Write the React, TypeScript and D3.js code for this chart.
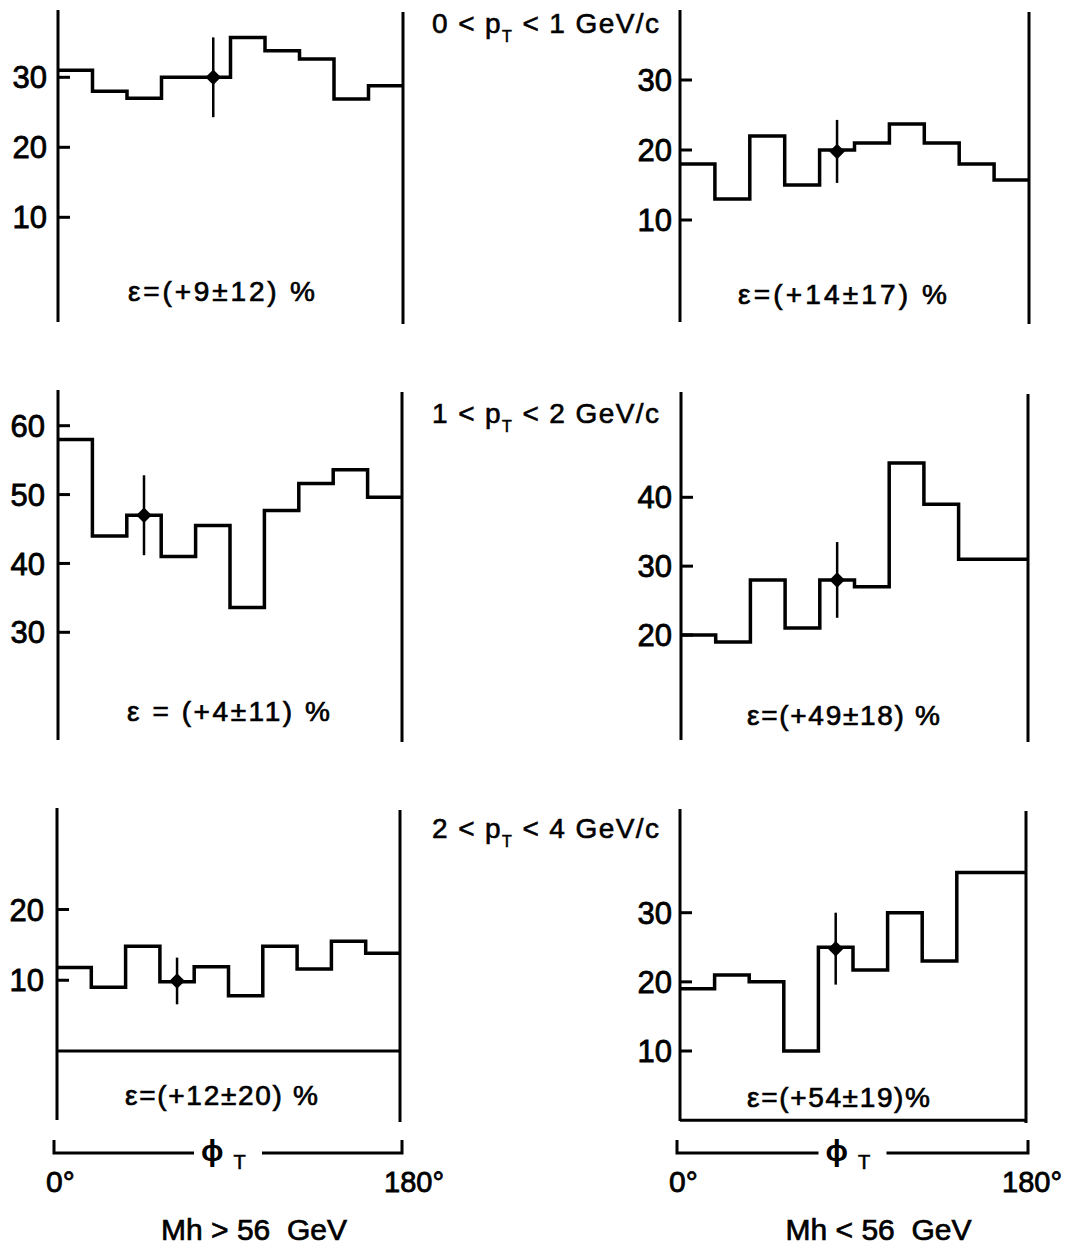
import * as d3 from "d3";

// phi_T bin edges (degrees), 10 bins of 18°
const phiEdges = [0, 18, 36, 54, 72, 90, 108, 126, 144, 162, 180];

// event counts per bin
const highMassPt01 = [31, 28, 27, 30, 30, 35.7, 33.8, 32.6, 26.9, 28.8];
const lowMassPt01 = [18, 13, 22, 15, 20, 21, 23.7, 21, 18, 15.7];
const highMassPt12 = [58, 44, 47, 41, 45.5, 33.6, 47.7, 51.6, 53.6, 49.6];
const lowMassPt12 = [20, 19, 28, 21, 28, 27, 45, 39, 31, 31];
const highMassPt24 = [11.8, 9, 14.8, 9.8, 11.9, 7.8, 14.8, 11.6, 15.5, 13.8];
const lowMassPt24 = [19, 21, 20, 10, 25, 21.7, 30, 23, 35.8, 35.8];

// representative error bar in each panel
const errBin = [4, 4, 2, 4, 3, 4];
const errValue = [30, 19.8, 47, 28, 9.9, 24.8];
const errSize = [5.7, 4.5, 5.8, 5.5, 3.3, 5.2];

const asymmetry = [
  "ε=(+9±12) %",
  "ε=(+14±17) %",
  "ε = (+4±11) %",
  "ε=(+49±18) %",
  "ε=(+12±20) %",
  "ε=(+54±19)%",
];

const yTicks = [
  [10, 20, 30],
  [10, 20, 30],
  [30, 40, 50, 60],
  [20, 30, 40],
  [10, 20],
  [10, 20, 30],
];

const ptLow = [0, 1, 2];
const ptHigh = [1, 2, 4];
const massLabels = ["Mh > 56  GeV", "Mh < 56  GeV"];

const series = [highMassPt01, lowMassPt01, highMassPt12, lowMassPt12, highMassPt24, lowMassPt24];

// panel geometry
const layout = [
  { x0: 58, x1: 403, top: 10, bottom: 322, dom: [0, 30], rng: [287.3, 77.3], gap: 11, ex: 128, ew: 187, ey: 301, base: false },
  { x0: 680, x1: 1029, top: 10, bottom: 322, dom: [0, 30], rng: [290, 80], gap: 8, ex: 738, ew: 209, ey: 304, base: false },
  { x0: 58, x1: 402, top: 390, bottom: 740, dom: [30, 60], rng: [632.3, 425.7], gap: 13, ex: 127, ew: 203, ey: 721, base: false },
  { x0: 681, x1: 1028, top: 392, bottom: 740, dom: [20, 40], rng: [635, 497.3], gap: 9, ex: 747, ew: 193, ey: 725, base: false },
  { x0: 57, x1: 400, top: 808, bottom: 1120, dom: [0, 20], rng: [1051, 909.5], gap: 13, ex: 125, ew: 193, ey: 1105, base: true },
  { x0: 680, x1: 1026, top: 809, bottom: 1121, dom: [10, 30], rng: [1051, 912.7], gap: 8, ex: 747, ew: 183, ey: 1107, base: true },
];

const font = "'Liberation Sans', Arial, sans-serif";
const ink = "#000";

function Panel({ i }: { i: number }) {
  const L = layout[i];
  const values = series[i];
  const x = d3.scaleLinear().domain([0, 180]).range([L.x0, L.x1]);
  const y = d3.scaleLinear().domain(L.dom).range(L.rng);
  const pts: [number, number][] = phiEdges.map((e, k) => [e, values[Math.min(k, values.length - 1)]]);
  const line = d3
    .line<[number, number]>()
    .x((d) => x(d[0]))
    .y((d) => y(d[1]))
    .curve(d3.curveStepAfter);
  const eb = errBin[i];
  const ex = x((phiEdges[eb] + phiEdges[eb + 1]) / 2);
  const marker = d3.symbol(d3.symbolSquare, 120)();
  return (
    <g>
      <line x1={L.x0} x2={L.x0} y1={L.top} y2={L.bottom} stroke={ink} strokeWidth={3} />
      <line x1={L.x1} x2={L.x1} y1={L.top + 2} y2={L.bottom + 2} stroke={ink} strokeWidth={3} />
      {L.base && (
        <line x1={L.x0} x2={L.x1} y1={y(0)} y2={y(0)} stroke={ink} strokeWidth={3} />
      )}
      {yTicks[i].map((t) => (
        <g key={t}>
          <line x1={L.x0} x2={L.x0 + 12} y1={y(t)} y2={y(t)} stroke={ink} strokeWidth={3} />
          <text
            x={L.x0 - L.gap}
            y={y(t)}
            dy="0.36em"
            textAnchor="end"
            fontFamily={font}
            fontSize={31}
            fill={ink}
            stroke={ink}
            strokeWidth={0.8}
          >
            {t}
          </text>
        </g>
      ))}
      <path d={line(pts) ?? ""} fill="none" stroke={ink} strokeWidth={3.5} strokeLinejoin="miter" />
      <line
        x1={ex}
        x2={ex}
        y1={y(errValue[i] + errSize[i])}
        y2={y(errValue[i] - errSize[i])}
        stroke={ink}
        strokeWidth={2.5}
      />
      <path d={marker ?? ""} transform={`translate(${ex},${y(errValue[i])}) rotate(45)`} fill={ink} />
      <text
        x={L.ex}
        y={L.ey}
        textLength={L.ew}
        lengthAdjust="spacing"
        fontFamily={font}
        fontSize={28}
        fill={ink}
        stroke={ink}
        strokeWidth={0.7}
      >
        {asymmetry[i]}
      </text>
    </g>
  );
}

function PhiAxis({ col }: { col: number }) {
  const L = layout[4 + col];
  const x = d3.scaleLinear().domain([0, 180]).range([L.x0 - 3, L.x1 + 2]);
  const yb = 1153;
  const mid = (x(0) + x(180)) / 2;
  return (
    <g>
      <path
        d={`M${x(0)},${yb - 13}V${yb}H${mid - 34}M${mid + 34},${yb}H${x(180)}V${yb - 13}`}
        fill="none"
        stroke={ink}
        strokeWidth={3}
      />
      <text x={mid - 27} y={1161} fontFamily={font} fontSize={30} fontWeight="bold" fill={ink}>
        ϕ
        <tspan fontSize={20} fontWeight="normal" dx={10} dy={8} stroke={ink} strokeWidth={0.6}>
          T
        </tspan>
      </text>
      <text x={x(0) - 8} y={1192} fontFamily={font} fontSize={30} fill={ink} stroke={ink} strokeWidth={0.8}>
        {"0°"}
      </text>
      <text
        x={x(180) + (col === 0 ? 42 : 34)}
        y={1192}
        textAnchor="end"
        fontFamily={font}
        fontSize={29}
        fill={ink}
        stroke={ink}
        strokeWidth={0.8}
      >
        {"180°"}
      </text>
      <text
        x={mid + 26}
        y={1240}
        textAnchor="middle"
        fontFamily={font}
        fontSize={30}
        fill={ink}
        stroke={ink}
        strokeWidth={0.7}
        style={{ whiteSpace: "pre" }}
      >
        {massLabels[col]}
      </text>
    </g>
  );
}

export default function App() {
  const ptY = [33, 423, 838];
  return (
    <svg
      width={1068}
      height={1253}
      viewBox="0 0 1068 1253"
      style={{ position: "absolute", left: 0, top: 0, background: "#fff" }}
    >
      <rect width={1068} height={1253} fill="#fff" />
      {layout.map((_, i) => (
        <Panel key={i} i={i} />
      ))}
      {ptLow.map((lo, r) => (
        <text
          key={r}
          x={432}
          y={ptY[r]}
          fontFamily={font}
          fontSize={28}
          letterSpacing={1.4}
          fill={ink}
          stroke={ink}
          strokeWidth={0.6}
          style={{ whiteSpace: "pre" }}
        >
          {`${lo} < p`}
          <tspan fontSize={16} dy={9}>
            T
          </tspan>
          <tspan dy={-9}>{` < ${ptHigh[r]} GeV/c`}</tspan>
        </text>
      ))}
      <PhiAxis col={0} />
      <PhiAxis col={1} />
    </svg>
  );
}
